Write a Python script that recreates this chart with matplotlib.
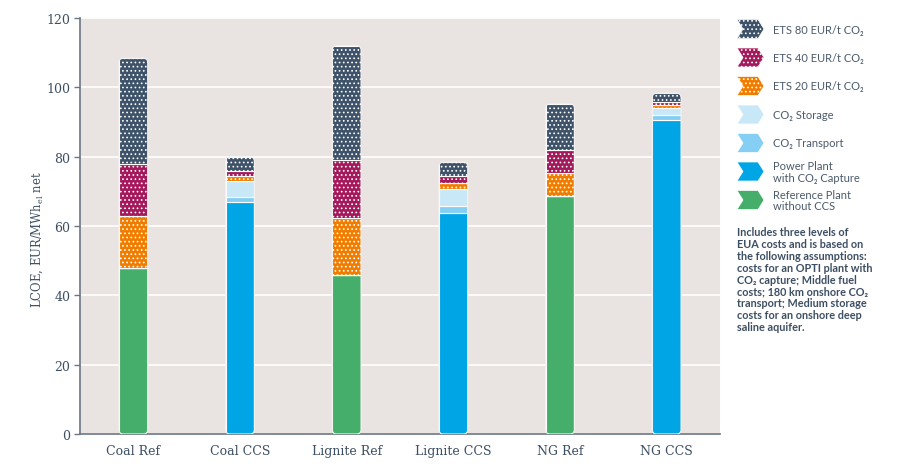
import matplotlib
matplotlib.use("Agg")
import matplotlib.pyplot as plt
from matplotlib.patches import FancyBboxPatch, Polygon
import numpy as np

categories = ["Coal Ref", "Coal CCS", "Lignite Ref", "Lignite CCS", "NG Ref", "NG CCS"]
reference_plant = [48.0, 0, 45.9, 0, 68.6, 0]
power_plant_ccs = [0, 66.9, 0, 63.7, 0, 90.5]
co2_transport = [0, 1.5, 0, 2.0, 0, 1.5]
co2_storage = [0, 4.5, 0, 5.0, 0, 2.0]
ets20 = [14.8, 1.4, 16.5, 1.7, 6.6, 0.9]
ets40 = [15.0, 1.6, 16.5, 2.1, 6.7, 1.0]
ets80 = [30.6, 4.0, 33.1, 3.9, 13.3, 2.4]
yticks = [0, 20, 40, 60, 80, 100, 120]

series = [
    ("Reference Plant\nwithout CCS", reference_plant, "#45AE6B", None),
    ("Power Plant\nwith CO\u2082 Capture", power_plant_ccs, "#00A5E6", None),
    ("CO\u2082 Transport", co2_transport, "#84CFF3", None),
    ("CO\u2082 Storage", co2_storage, "#C8E8F8", None),
    ("ETS 20 EUR/t CO\u2082", ets20, "#F07D00", "...."),
    ("ETS 40 EUR/t CO\u2082", ets40, "#A3195B", "...."),
    ("ETS 80 EUR/t CO\u2082", ets80, "#3E5369", "...."),
]

text_col = "#3D4F63"
plt.rcParams["hatch.linewidth"] = 0.7
plt.rcParams["mathtext.default"] = "regular"

W, H = 912, 477
fig = plt.figure(figsize=(W / 100, H / 100), dpi=100)
ax = fig.add_axes([80 / W, 42 / H, 640 / W, 416 / H])
ax.set_facecolor("#E9E4E1")

x = np.arange(len(categories))
bw = 0.27
ax.set_xlim(-0.5, len(categories) - 0.5)
ax.set_ylim(0, 120)

totals = np.zeros(len(categories))
for name, vals, col, hatch in series:
    totals += np.array(vals)

# rounded clip shapes
px_x = 640 / 6.0
px_y = 416 / 120.0
r_px = 4.5
rx = r_px / px_x
asp = (r_px / px_y) / rx
clips = []
for i in range(len(categories)):
    p = FancyBboxPatch((x[i] - bw / 2, 0), bw, totals[i],
                       boxstyle=f"round,pad=0,rounding_size={rx}",
                       mutation_aspect=asp, transform=ax.transData)
    clips.append(p)

bottom = np.zeros(len(categories))
for name, vals, col, hatch in series:
    vals = np.array(vals)
    bars = ax.bar(x, vals, bw, bottom=bottom, color=col, edgecolor="white",
                  linewidth=0.8, hatch=hatch, zorder=3)
    for i, b in enumerate(bars):
        b.set_clip_path(clips[i])
    bottom += vals

for i in range(len(categories)):
    o = FancyBboxPatch((x[i] - bw / 2, 0), bw, totals[i],
                       boxstyle=f"round,pad=0,rounding_size={rx}",
                       mutation_aspect=asp, facecolor="none",
                       edgecolor="#F4F2F1", linewidth=0.8, zorder=4)
    ax.add_patch(o)

ax.set_yticks(yticks)
ax.yaxis.grid(True, color="white", linewidth=1.2, zorder=0)
ax.set_axisbelow(True)
ax.set_xticks(x)
ax.set_xticklabels(categories, family=["DejaVu Serif"], fontsize=9, color=text_col)
ax.tick_params(axis="x", length=0, pad=7)
ax.tick_params(axis="y", length=4, width=1, color="#6B7785", labelsize=9,
               labelcolor=text_col, pad=3)
for lbl in ax.get_yticklabels():
    lbl.set_family("DejaVu Serif")
for s in ["top", "right"]:
    ax.spines[s].set_visible(False)
for s in ["left", "bottom"]:
    ax.spines[s].set_color("#6B7785")
    ax.spines[s].set_linewidth(1.2)
ax.set_ylabel("LCOE, EUR/MWh$_{el}$ net", family="DejaVu Serif", fontsize=8.4,
              color=text_col, va="center")
ax.yaxis.set_label_coords(-0.066, 0.47)

# legend (chevron markers)
leg_font = ["Lato", "DejaVu Sans"]
y0 = 30
dy = 28.5
hx, hw, hh, nd = 737, 27, 19, 6
for k, (name, vals, col, hatch) in enumerate(reversed(series)):
    yc = y0 + dy * k
    top, bot = yc - hh / 2, yc + hh / 2
    pts = [(hx, top), (hx + hw - nd, top), (hx + hw, yc), (hx + hw - nd, bot),
           (hx, bot), (hx + nd, yc)]
    pts = [(px / W, 1 - py / H) for px, py in pts]
    poly = Polygon(pts, closed=True, facecolor=col, edgecolor="white",
                   linewidth=0.5, hatch=hatch, transform=fig.transFigure)
    fig.add_artist(poly)
    fig.text(773 / W, 1 - yc / H, name, family=leg_font, fontsize=8,
             color="#4A5A6B", va="center", ha="left", linespacing=1.05)

note = ("Includes three levels of\nEUA costs and is based on\nthe following assumptions:\n"
        "costs for an OPTI plant with\nCO\u2082 capture; Middle fuel\n"
        "costs; 180 km onshore CO\u2082\ntransport; Medium storage\n"
        "costs for an onshore deep\nsaline aquifer.")
fig.text(737 / W, 1 - 227 / H, note, family=leg_font, fontsize=7.8,
         fontweight="bold", color=text_col, va="top", ha="left", linespacing=1.1)

fig.savefig("out.png", dpi=100, facecolor="white")
